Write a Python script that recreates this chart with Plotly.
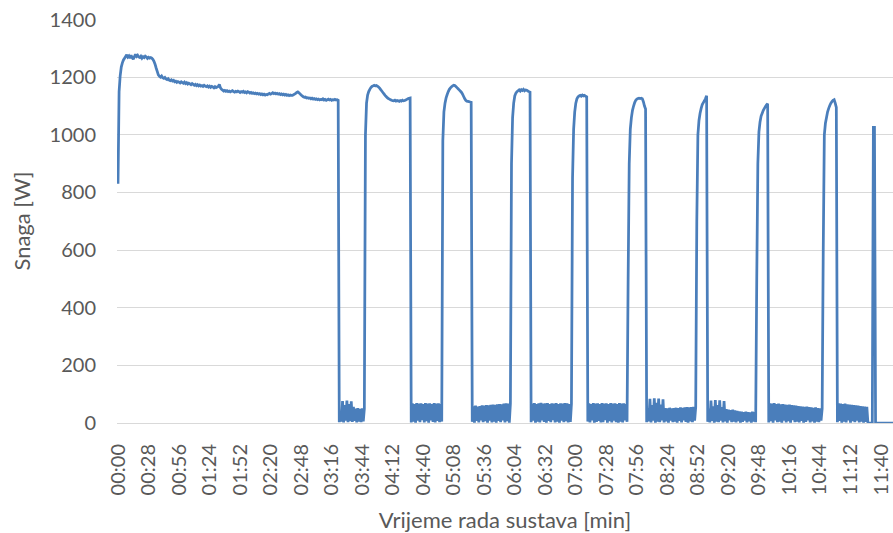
import plotly.graph_objects as go

# ---- data (W), one sample per second ----
warmup = [
    830, 1150, 1205, 1235, 1250, 1260, 1266, 1272, 1278, 1270,
    1274, 1266, 1276, 1268, 1262, 1271, 1279, 1272, 1276, 1270,
    1268, 1273, 1266, 1271, 1268, 1273, 1270, 1265, 1269, 1266,
    1268, 1266, 1262, 1255, 1245, 1232, 1220, 1208, 1203, 1200,
    1204, 1198, 1196, 1199, 1194, 1192, 1195, 1190, 1188, 1191,
    1187, 1189, 1184, 1186, 1182, 1185, 1183, 1180, 1184, 1181,
    1179, 1183, 1178, 1181, 1176, 1179, 1177, 1174, 1178, 1175,
    1172, 1175, 1171, 1174, 1170, 1173, 1169, 1171, 1168, 1172,
    1169, 1167, 1170, 1166, 1169, 1165, 1168, 1166, 1163, 1167,
    1164, 1166, 1168, 1175, 1163, 1158, 1155, 1152, 1154, 1151,
    1153, 1150, 1152, 1149, 1151, 1153, 1150, 1148, 1151, 1149,
    1152, 1150, 1147, 1150, 1148, 1151, 1147, 1149, 1146, 1150,
    1148, 1145, 1147, 1144, 1146, 1143, 1145, 1142, 1144, 1141,
    1143, 1140, 1142, 1139, 1141, 1138, 1140, 1139, 1142, 1144,
    1141, 1143, 1146, 1143, 1145, 1142, 1144, 1141, 1143, 1140,
    1142, 1139, 1141, 1138, 1140, 1137, 1139, 1136, 1138, 1137,
    1137, 1139, 1141, 1144, 1147, 1149, 1146, 1142, 1138, 1135,
    1132, 1130, 1131, 1128, 1129, 1127, 1128, 1125, 1127, 1124,
    1126, 1123, 1125, 1122, 1124, 1121, 1123, 1122, 1125, 1121,
    1123, 1120, 1122, 1124, 1121, 1123, 1120, 1122, 1121, 1123,
    1121, 1122, 1120,
]
idle_a = [3, 42, 5, 76, 2, 62, 8, 78, 3, 66, 6, 75, 4, 56, 7, 50, 2, 52, 5, 49, 3, 51, 6, 50]
run_1 = [
    1000, 1110, 1138, 1150, 1158, 1164, 1168, 1170, 1172, 1170,
    1171, 1169, 1166, 1162, 1157, 1152, 1147, 1142, 1137, 1133,
    1129, 1126, 1124, 1122, 1120, 1119, 1118, 1120, 1117, 1119,
    1118, 1116, 1119, 1117, 1120, 1118, 1119, 1121, 1123, 1125,
    1127, 1128,
]
idle_b = [2, 68, 5, 66, 1, 69, 8, 67, 3, 68, 10, 66, 2, 69, 6, 67, 1, 68, 9, 66,
          4, 69, 2, 67, 7, 68, 3, 66, 5]
run_2 = [980, 1080, 1110, 1128, 1140, 1150, 1158, 1163, 1167, 1170,
         1172, 1171, 1168, 1164, 1160, 1156, 1152, 1148, 1142, 1134,
         1126, 1120, 1117, 1116, 1115, 1114, 1113]
idle_c = [4, 58, 1, 60, 7, 57, 2, 59, 9, 61, 3, 60, 6, 62, 1, 61, 8, 63, 2, 64,
          5, 63, 1, 65, 7, 66, 3, 65, 9, 67, 2, 68, 6, 67, 1, 68]
run_3 = [900, 1060, 1110, 1135, 1145, 1150, 1153, 1156, 1152, 1157,
         1154, 1158, 1153, 1156, 1155, 1152, 1150, 1148]
idle_d = [3, 67, 8, 69, 1, 66, 5, 68, 2, 70, 9, 67, 4, 68, 1, 69, 7, 66, 3, 68,
          10, 67, 2, 69, 5, 66, 1, 68, 8, 67, 3, 69, 6, 68, 2, 66, 4, 67]
run_4 = [850, 1020, 1080, 1110, 1125, 1132, 1135, 1137, 1134, 1138, 1135, 1137, 1134, 1132]
idle_e = [5, 68, 2, 66, 9, 69, 1, 67, 4, 68, 7, 66, 2, 69, 3, 67, 10, 68, 1, 66,
          6, 69, 2, 67, 8, 68, 3, 66, 1, 69, 5, 67, 2, 68, 9, 66, 4]
run_5 = [500, 900, 1020, 1060, 1085, 1100, 1112, 1120, 1124, 1126,
         1127, 1126, 1127, 1125, 1115, 1100, 1090]
idle_f = [3, 52, 6, 84, 2, 62, 8, 86, 1, 70, 5, 85, 3, 64, 9, 82, 2, 52, 6, 51,
          1, 53, 8, 51, 3, 52, 5, 53, 1, 52, 7, 54, 2, 53, 9, 54, 4, 55, 1, 54,
          6, 55, 3, 56, 8, 55]
run_6 = [700, 1000, 1050, 1075, 1092, 1105, 1112, 1118, 1126, 1136]
idle_g = [4, 50, 2, 78, 7, 58, 1, 80, 5, 62, 3, 79, 8, 55, 2, 76, 6, 48, 1, 46,
          9, 45, 3, 46, 5, 44, 2, 42, 7, 40, 1, 39, 4, 38, 8, 39, 2, 38, 6, 37,
          1, 39, 5, 38, 3]
run_7 = [500, 900, 1010, 1045, 1065, 1075, 1085, 1092, 1098, 1104, 1108]
idle_h = [2, 68, 6, 67, 1, 69, 9, 66, 3, 67, 5, 65, 1, 66, 8, 64, 2, 63, 6, 64,
          1, 62, 10, 61, 3, 60, 5, 59, 2, 58, 7, 57, 1, 56, 4, 57, 9, 55, 2, 54,
          6, 53, 1, 54, 5, 52, 3, 51, 8, 50]
run_8 = [600, 1000, 1040, 1060, 1080, 1092, 1102, 1110, 1115, 1120, 1122, 1110, 1095]
idle_i = [3, 68, 7, 67, 1, 66, 5, 67, 2, 65, 9, 64, 1, 63, 6, 62, 3, 61, 8, 60,
          2, 59, 5, 58, 1, 57, 4, 56]
tail = [0, 0, 0, 0, 0, 1026, 1026, 0, 0, 0, 0, 0, 0, 0, 0, 0, 0, 0, 0, 0, 0, 0, 0, 0]

tick_labels = ["00:00", "00:28", "00:56", "01:24", "01:52", "02:20", "02:48",
               "03:16", "03:44", "04:12", "04:40", "05:08", "05:36", "06:04",
               "06:32", "07:00", "07:28", "07:56", "08:24", "08:52", "09:20",
               "09:48", "10:16", "10:44", "11:12", "11:40"]

segments = [warmup, idle_a, run_1, idle_b, run_2, idle_c, run_3, idle_d, run_4,
            idle_e, run_5, idle_f, run_6, idle_g, run_7, idle_h, run_8, idle_i, tail]
power = [v for seg in segments for v in seg]
seconds = list(range(len(power)))
tick_vals = [int(s.split(":")[0]) * 60 + int(s.split(":")[1]) for s in tick_labels]

FONT = "Lato"
GREY = "#595959"

fig = go.Figure()
fig.add_trace(go.Scatter(
    x=seconds, y=power, mode="lines",
    line=dict(color="#4A7EBB", width=2.75, simplify=False),
    showlegend=False, hoverinfo="skip",
))

fig.update_layout(
    width=893, height=533,
    margin=dict(l=117, r=0, t=19, b=110),
    paper_bgcolor="white", plot_bgcolor="white",
    font=dict(family=FONT, color=GREY, size=20),
)
fig.update_xaxes(
    range=[-0.92, 711],
    tickmode="array", tickvals=tick_vals, ticktext=tick_labels,
    tickangle=-90, ticks="", showgrid=False,
    showline=True, linecolor="#d9d9d9", linewidth=1,
    zeroline=False,
    tickfont=dict(family=FONT, size=20, color=GREY),
    ticklabelstandoff=12,
    title=dict(text="Vrijeme rada sustava [min]",
               font=dict(family=FONT, size=22, color=GREY), standoff=18),
)
fig.update_yaxes(
    range=[0, 1402], dtick=200, tick0=0,
    showgrid=True, gridcolor="#d9d9d9", gridwidth=1,
    zeroline=False, ticks="",
    tickfont=dict(family=FONT, size=20, color=GREY),
    ticklabelstandoff=20,
    title=dict(text="Snaga [W]", font=dict(family=FONT, size=22, color=GREY), standoff=12),
)

fig.write_html(
    "out.html",
    config={"displayModeBar": False},
    post_script="document.body.style.margin='0';document.body.style.padding='0';",
)
